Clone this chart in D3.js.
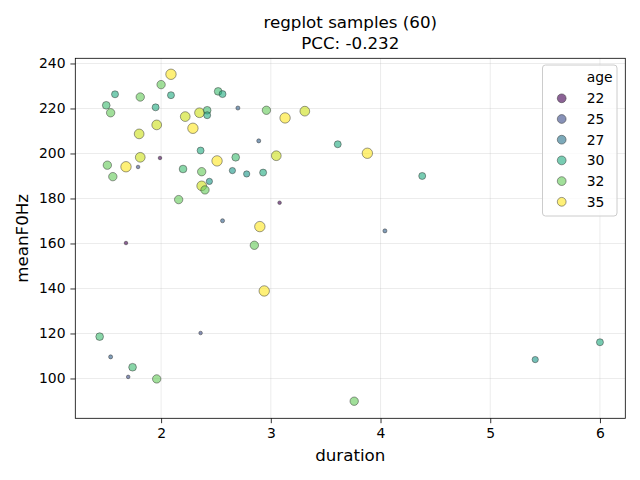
<!DOCTYPE html>
<html>
<head>
<meta charset="utf-8">
<script src="https://cdn.jsdelivr.net/npm/d3@7"></script>
<style>
  body { margin: 0; background: #fff; }
  svg { display: block; font-family: "DejaVu Sans", sans-serif; }
</style>
</head>
<body>
<svg id="chart" width="640" height="480"></svg>
<script>
// data
const duration = [2.09, 2.00, 1.58, 1.81, 2.09, 2.52, 2.56, 2.70, 2.96, 1.50,
  1.54, 1.95, 2.22, 2.35, 2.42, 2.42, 2.29, 1.96, 1.80, 2.89,
  2.36, 2.68, 3.05, 1.99, 1.81, 1.51, 1.68, 1.79, 1.56, 2.51,
  2.20, 2.37, 2.65, 2.78, 2.93, 2.44, 2.37, 2.40, 2.16, 3.13,
  3.31, 3.61, 3.88, 4.38, 3.08, 2.56, 2.90, 2.85, 1.68, 2.94,
  1.44, 2.36, 1.54, 1.74, 1.70, 1.96, 4.04, 3.76, 5.41, 6.00]
const meanF0 = [235.2, 230.6, 226.3, 225.1, 225.9, 227.6, 226.4, 220.2, 219.2, 221.4,
  218.1, 220.5, 216.4, 218.1, 219.2, 217.0, 211.2, 212.7, 208.7, 205.6,
  201.3, 198.3, 199.0, 198.0, 198.3, 194.8, 194.1, 194.0, 189.7, 196.7,
  193.1, 191.9, 192.4, 190.9, 191.5, 187.6, 185.6, 183.8, 179.5, 215.8,
  218.8, 204.1, 200.1, 190.0, 178.1, 170.1, 167.5, 159.2, 160.2, 138.9,
  118.6, 120.2, 109.6, 105.0, 100.7, 99.8, 165.6, 89.9, 108.4, 116.1]
const age = [35, 32, 30, 32, 30, 31, 30, 26, 32, 31,
  32, 30, 34, 34, 31, 30, 35, 34, 34, 26,
  30, 31, 34, 22, 34, 32, 35, 25, 32, 35,
  31, 32, 29, 29, 30, 29, 34, 32, 32, 35,
  34, 30, 35, 30, 22, 26, 35, 32, 22, 35,
  31, 25, 26, 31, 25, 32, 26, 32, 29, 30]
const legendAges = [22, 25, 27, 30, 32, 35]
const xTicks = [2, 3, 4, 5, 6]
const yTicks = [100, 120, 140, 160, 180, 200, 220, 240]

const L = 75.3, R = 625.3, T = 58.3, B = 418.3

const svg = d3.select('#chart')
const x = d3.scaleLinear().domain([1.218, 6.231]).range([L, R])
const y = d3.scaleLinear().domain([82.3, 242.3]).range([B, T])
const color = d3.scaleSequential(d3.interpolateViridis).domain([22, 35])
const rad = d3.scaleSqrt().domain([21, 35]).range([0, 5.2])

// grid
svg.append('g').selectAll('line').data(xTicks).join('line')
  .attr('x1', d => x(d)).attr('x2', d => x(d)).attr('y1', T).attr('y2', B)
  .attr('stroke', '#b0b0b0').attr('stroke-opacity', 0.3).attr('stroke-width', 0.8)
svg.append('g').selectAll('line').data(yTicks).join('line')
  .attr('y1', d => y(d)).attr('y2', d => y(d)).attr('x1', L).attr('x2', R)
  .attr('stroke', '#b0b0b0').attr('stroke-opacity', 0.3).attr('stroke-width', 0.8)

// axes
const xAxis = svg.append('g').attr('transform', 'translate(0,' + B + ')')
  .call(d3.axisBottom(x).tickValues(xTicks).tickSize(4.9).tickPadding(4.9).tickFormat(d3.format('d')))
const yAxis = svg.append('g').attr('transform', 'translate(' + L + ',0)')
  .call(d3.axisLeft(y).tickValues(yTicks).tickSize(4.9).tickPadding(4.9).tickFormat(d3.format('d')))
;[xAxis, yAxis].forEach(a => {
  a.select('.domain').remove()
  a.selectAll('.tick line').attr('stroke', '#000').attr('stroke-width', 0.8)
  a.selectAll('.tick text').attr('fill', '#000').style('font-size', '13.9px').style('font-family', 'DejaVu Sans')
})

// points
const idx = d3.range(duration.length)
svg.append('g').selectAll('circle').data(idx).join('circle')
  .attr('cx', i => x(duration[i])).attr('cy', i => y(meanF0[i]))
  .attr('r', i => Math.max(1.8, rad(age[i])))
  .attr('fill', i => color(age[i])).attr('fill-opacity', 0.62)
  .attr('stroke', '#333').attr('stroke-opacity', 0.7).attr('stroke-width', 0.7)

// frame
svg.append('rect').attr('x', L).attr('y', T).attr('width', R - L).attr('height', B - T)
  .attr('fill', 'none').attr('stroke', '#000').attr('stroke-width', 0.8)

// titles
svg.append('text').attr('x', (L + R) / 2).attr('y', 28).attr('text-anchor', 'middle')
  .style('font-size', '16.7px').text('regplot samples (60)')
svg.append('text').attr('x', (L + R) / 2).attr('y', 49).attr('text-anchor', 'middle')
  .style('font-size', '16.7px').text('PCC: -0.232')
svg.append('text').attr('x', (L + R) / 2).attr('y', 461).attr('text-anchor', 'middle')
  .style('font-size', '16.7px').text('duration')
svg.append('text').attr('transform', 'translate(28,' + ((T + B) / 2) + ') rotate(-90)')
  .attr('text-anchor', 'middle').style('font-size', '16.7px').text('meanF0Hz')

// legend
const lg = svg.append('g')
lg.append('rect').attr('x', 542.5).attr('y', 65).attr('width', 74.5).attr('height', 151).attr('rx', 3)
  .attr('fill', '#fff').attr('fill-opacity', 0.8).attr('stroke', '#ccc').attr('stroke-width', 1)
lg.append('text').attr('x', 586.7).attr('y', 81.5).style('font-size', '13.9px').text('age')
const row = lg.selectAll('g.row').data(legendAges).join('g').attr('class', 'row')
  .attr('transform', (d, i) => 'translate(0,' + (98.3 + i * 20.7) + ')')
row.append('circle').attr('cx', 561.7).attr('cy', 0).attr('r', 4.4)
  .attr('fill', d => color(d)).attr('fill-opacity', 0.62)
  .attr('stroke', '#333').attr('stroke-opacity', 0.7).attr('stroke-width', 0.7)
row.append('text').attr('x', 586.7).attr('y', 5).style('font-size', '13.9px').text(d => d)
</script>
</body>
</html>
